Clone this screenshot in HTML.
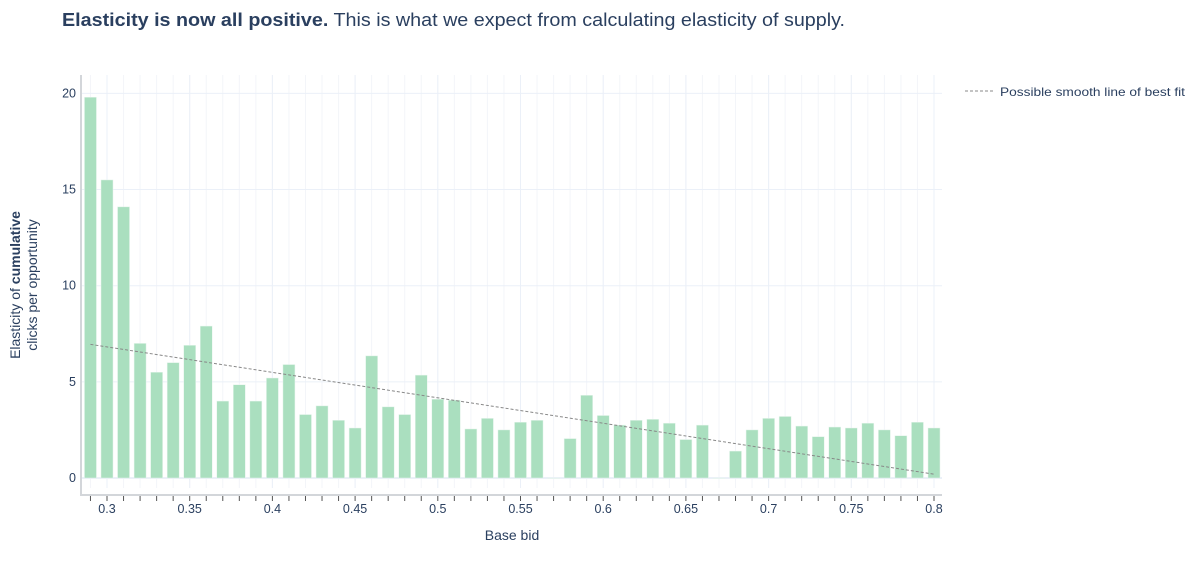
<!DOCTYPE html>
<html><head><meta charset="utf-8"><style>
body{margin:0;background:#fff;font-family:"Liberation Sans",sans-serif;}
svg text{font-family:"Liberation Sans",sans-serif;fill:#2a3f5f;}
</style></head><body>
<svg width="1199" height="561">
<text x="62" y="26" font-size="18" textLength="783" lengthAdjust="spacingAndGlyphs"><tspan font-weight="bold">Elasticity is now all positive.</tspan> This is what we expect from calculating elasticity of supply.</text>
<g id="grid"></g>
<g id="bars"></g>
<g id="axes"></g>
<text transform="translate(20,285) rotate(-90)" text-anchor="middle" font-size="14">Elasticity of <tspan font-weight="bold">cumulative</tspan></text>
<text transform="translate(37,285) rotate(-90)" text-anchor="middle" font-size="14">clicks per opportunity</text>
<text x="512" y="540" text-anchor="middle" font-size="14">Base bid</text>
<g>
<line x1="965" y1="91" x2="994" y2="91" stroke="#888" stroke-dasharray="3,2" stroke-width="1"/>
<text x="1000" y="96" font-size="12" textLength="185" lengthAdjust="spacingAndGlyphs">Possible smooth line of best fit</text>
</g>
</svg>
<script>
const categories=[0.29,0.30,0.31,0.32,0.33,0.34,0.35,0.36,0.37,0.38,0.39,0.40,0.41,0.42,0.43,0.44,0.45,0.46,0.47,0.48,0.49,0.50,0.51,0.52,0.53,0.54,0.55,0.56,0.57,0.58,0.59,0.60,0.61,0.62,0.63,0.64,0.65,0.66,0.67,0.68,0.69,0.70,0.71,0.72,0.73,0.74,0.75,0.76,0.77,0.78,0.79,0.80];
const values=[19.8,15.5,14.1,7.0,5.5,6.0,6.9,7.9,4.0,4.85,4.0,5.2,5.9,3.3,3.75,3.0,2.6,6.35,3.7,3.3,5.35,4.1,4.05,2.55,3.1,2.5,2.9,3.0,0,2.05,4.3,3.25,2.75,3.0,3.05,2.85,2.0,2.75,0,1.4,2.5,3.1,3.2,2.7,2.15,2.65,2.6,2.85,2.5,2.2,2.9,2.6];
const fitX=[0.29,0.80];
const fitY=[6.95,0.2];
const xTicks=[0.3,0.35,0.4,0.45,0.5,0.55,0.6,0.65,0.7,0.75,0.8];
const yTicks=[0,5,10,15,20];
const NS="http://www.w3.org/2000/svg";
const L=82,R=942,T=75,B=488;
const xs=v=>107+(v-0.3)*1654;
const ys=v=>478-v*19.23;
function mk(tag,attrs,parent){const e=document.createElementNS(NS,tag);for(const k in attrs)e.setAttribute(k,attrs[k]);parent.appendChild(e);return e;}
const grid=document.getElementById('grid'),bars=document.getElementById('bars'),axes=document.getElementById('axes');
for(let v=0.29;v<=0.805;v+=0.01){const g=mk('line',{x1:xs(v),x2:xs(v),y1:T,y2:B,stroke:'#f3f5f9','stroke-width':1},grid);

}
xTicks.forEach(t=>{const g=mk('line',{x1:xs(t),x2:xs(t),y1:T,y2:B,stroke:'#ebf0f8','stroke-width':1},grid);


const tx=mk('text',{x:xs(t),y:513,'text-anchor':'middle','font-size':12.5},axes);tx.textContent=String(t);

});
yTicks.forEach(t=>{const g=mk('line',{x1:L,x2:R,y1:ys(t),y2:ys(t),stroke:'#ebf0f8','stroke-width':t===0?2:1},grid);


const tx=mk('text',{x:76,y:ys(t)+4,'text-anchor':'end','font-size':12.5},axes);tx.textContent=String(t);

});
categories.forEach((c,i)=>{const h=values[i];const y=ys(h);
const r=mk('rect',{x:xs(c)-6,y:Math.min(y,478),width:12,height:Math.max(Math.abs(478-y),0.5),fill:'#aadfbf',stroke:'#e8f5ee','stroke-width':0.5},bars);

});
const ln=mk('line',{x1:xs(fitX[0]),y1:ys(fitY[0]),x2:xs(fitX[1]),y2:ys(fitY[1]),stroke:'#888','stroke-width':1,'stroke-dasharray':'3,2'},bars);


const ya=mk('line',{x1:L-1,x2:L-1,y1:T,y2:496,stroke:'#d3d6da','stroke-width':2},axes);


const xa=mk('line',{x1:L-2,x2:R,y1:495,y2:495,stroke:'#d3d6da','stroke-width':2},axes);


for(let v=0.29;v<=0.805;v+=0.01){const t=mk('line',{x1:xs(v),x2:xs(v),y1:496,y2:501,stroke:'#555','stroke-width':1},axes);

}
</script>
</body></html>
